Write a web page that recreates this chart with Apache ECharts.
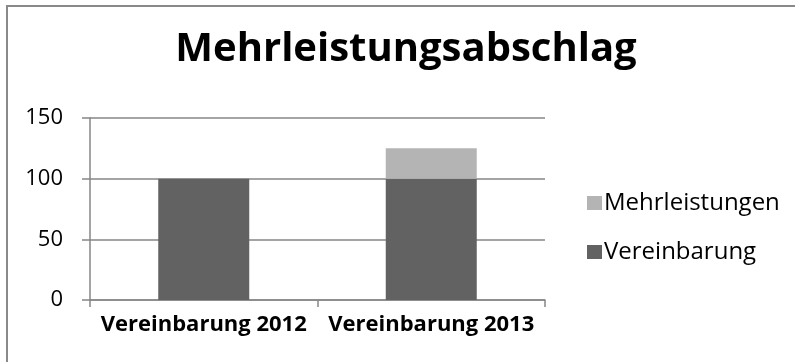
<!DOCTYPE html>
<html>
<head>
<meta charset="utf-8">
<script src="https://cdn.jsdelivr.net/npm/echarts@6/dist/echarts.min.js"></script>
<style>
  html, body { margin: 0; padding: 0; background: #fff; }
  #chart { width: 795px; height: 362px; }
</style>
</head>
<body>
<div id="chart"></div>
<script>
// Categories, series values and axis ticks
const categories = ['Vereinbarung 2012', 'Vereinbarung 2013'];
const vereinbarung = [100, 100];
const mehrleistungen = [0, 25];
const yMin = 0, yMax = 150, yStep = 50;

const gridColor = '#868686';
const font = '"Open Sans", "Noto Sans", sans-serif';

const chart = echarts.init(document.getElementById('chart'));
chart.setOption({
  animation: false,
  backgroundColor: '#ffffff',
  title: {
    text: 'Mehrleistungsabschlag',
    left: 406,
    textAlign: 'center',
    top: 30,
    padding: 0,
    textStyle: { fontFamily: font, fontWeight: 'bold', fontSize: 40, color: '#000' }
  },
  graphic: [{
    type: 'rect',
    shape: { x: 7, y: 6, width: 900, height: 500 },
    style: { fill: 'none', stroke: '#898989', lineWidth: 2 },
    silent: true
  }],
  legend: {
    orient: 'vertical',
    left: 587,
    top: 191,
    padding: 0,
    itemWidth: 15,
    itemHeight: 14,
    itemGap: 25,
    icon: 'rect',
    data: ['Mehrleistungen', 'Vereinbarung'],
    textStyle: { fontFamily: font, fontSize: 24, color: '#000', padding: [0, 0, 0, -3] }
  },
  grid: { left: 90, right: 250, top: 118, bottom: 62, containLabel: false },
  xAxis: {
    type: 'category',
    data: categories,
    axisLine: { lineStyle: { color: gridColor, width: 1.5 } },
    axisTick: { show: true, interval: 0, length: 7, lineStyle: { color: gridColor, width: 1.5 } },
    axisLabel: { interval: 0, margin: 14, fontFamily: font, fontWeight: 'bold', fontSize: 22, color: '#000' }
  },
  yAxis: {
    type: 'value',
    min: yMin, max: yMax, interval: yStep,
    axisLine: { show: true, lineStyle: { color: gridColor, width: 1.5 } },
    axisTick: { show: true, length: 8, lineStyle: { color: gridColor, width: 1.5 } },
    splitLine: { lineStyle: { color: gridColor, width: 1.5 } },
    axisLabel: { margin: 27, fontFamily: font, fontSize: 22, color: '#000' }
  },
  series: [
    {
      name: 'Vereinbarung', type: 'bar', stack: 'total',
      data: vereinbarung, barWidth: '40%',
      itemStyle: { color: '#626262' }
    },
    {
      name: 'Mehrleistungen', type: 'bar', stack: 'total',
      data: mehrleistungen, barWidth: '40%',
      itemStyle: { color: '#b4b4b4' }
    }
  ]
});
</script>
</body>
</html>
